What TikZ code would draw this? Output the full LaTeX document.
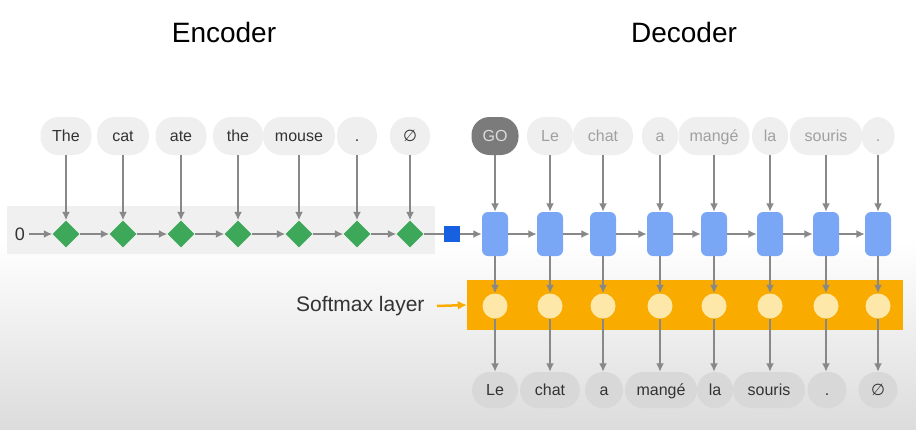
\documentclass[tikz,border=0pt]{standalone}
\usepackage{fontspec}
\setmainfont{Liberation Sans}
\newfontfamily\dejavu{DejaVu Sans}
\usetikzlibrary{shapes.geometric,arrows.meta}
\definecolor{pillgray}{HTML}{EFEFEF}
\definecolor{bandgray}{HTML}{F0F0F0}
\definecolor{textdark}{HTML}{333333}
\definecolor{textlight}{HTML}{A0A0A0}
\definecolor{gofill}{HTML}{7B7B7B}
\definecolor{gotext}{HTML}{DCDCDC}
\definecolor{outgray}{HTML}{D8D8D8}
\definecolor{diamgreen}{HTML}{3EA85A}
\definecolor{boxblue}{HTML}{7AA7F5}
\definecolor{sqblue}{HTML}{1760E0}
\definecolor{smorange}{HTML}{F9AB00}
\definecolor{smyellow}{HTML}{FDE8A9}
\definecolor{arrowgray}{HTML}{888888}
\definecolor{bgbottom}{HTML}{DCDCDC}
\begin{document}
\begin{tikzpicture}[x=1pt,y=-1pt,
  pillbase/.style={rectangle, rounded corners=18pt, inner sep=0pt,
    font=\fontsize{16}{18}\selectfont, text height=11.5pt, text depth=0pt},
  encpill/.style={pillbase, fill=pillgray, minimum height=38pt, text=textdark},
  decpill/.style={pillbase, fill=pillgray, minimum height=38pt, text=textlight},
  gopill/.style={pillbase, fill=gofill, minimum height=38pt, text=gotext},
  outpill/.style={pillbase, fill=outgray, minimum height=36pt, text=textdark},
  gdiam/.style={diamond, fill=diamgreen, minimum width=27pt, minimum height=27pt, inner sep=0pt, aspect=1},
  rnn/.style={rectangle, rounded corners=6pt, fill=boxblue, minimum width=26pt, minimum height=44pt, inner sep=0pt},
  smc/.style={circle, fill=smyellow, minimum size=25pt, inner sep=0pt},
  arr/.style={draw=arrowgray, line width=2pt, -{Latex[length=8.5pt,width=8pt]}},
  plainline/.style={draw=arrowgray, line width=2pt},
  title/.style={font=\fontsize{28}{32}\selectfont, text=black}
]
% background
\useasboundingbox (0,0) rectangle (916,429);
\fill[white] (0,0) rectangle (916,429);
\shade[top color=white, bottom color=bgbottom] (0,240) rectangle (916,429);

% titles
\node[title] (enc) at (224,32) {Encoder};
\node[title] (dec) at (684,32) {Decoder};

% bands
\node[rectangle, fill=bandgray, minimum width=428pt, minimum height=48pt, inner sep=0pt] (eband) at (221,230) {};
\node[rectangle, fill=smorange, minimum width=436pt, minimum height=50pt, inner sep=0pt] (oband) at (685,305) {};

% encoder inputs
\node[encpill, minimum width=51pt] (i1) at (66,136) {The};
\node[encpill, minimum width=52pt] (i2) at (123,136) {cat};
\node[encpill, minimum width=51pt] (i3) at (181,136) {ate};
\node[encpill, minimum width=50pt] (i4) at (238,136) {the};
\node[encpill, minimum width=72pt] (i5) at (299,136) {mouse};
\node[encpill, minimum width=40pt] (i6) at (357,136) {.};
\node[encpill, minimum width=40pt] (i7) at (410,136) {\dejavu ∅};

% encoder states
\node[font=\fontsize{18}{20}\selectfont, text=textdark] (zero) at (20,234) {0};
\node[gdiam] (d1) at (66,234) {};
\node[gdiam] (d2) at (123,234) {};
\node[gdiam] (d3) at (181,234) {};
\node[gdiam] (d4) at (238,234) {};
\node[gdiam] (d5) at (299,234) {};
\node[gdiam] (d6) at (357,234) {};
\node[gdiam] (d7) at (410,234) {};
\node[rectangle, fill=sqblue, minimum size=16pt, inner sep=0pt] (sq) at (452,234) {};

% decoder inputs
\node[gopill, minimum width=47pt] (g1) at (495,136) {GO};
\node[decpill, minimum width=46pt] (g2) at (550,136) {Le};
\node[decpill, minimum width=60pt] (g3) at (603,136) {chat};
\node[decpill, minimum width=36pt] (g4) at (660,136) {a};
\node[decpill, minimum width=71pt] (g5) at (714,136) {mangé};
\node[decpill, minimum width=36pt] (g6) at (770,136) {la};
\node[decpill, minimum width=72pt] (g7) at (826,136) {souris};
\node[decpill, minimum width=33pt] (g8) at (878,136) {.};

% decoder states
\foreach \i/\x in {1/495,2/550,3/603,4/660,5/714,6/770,7/826,8/878}{
  \node[rnn] (b\i) at (\x,234) {};
  \node[smc] (s\i) at (\x,306) {};
}

% decoder outputs
\node[outpill, minimum width=46pt] (o1) at (495,390) {Le};
\node[outpill, minimum width=60pt] (o2) at (550,390) {chat};
\node[outpill, minimum width=38pt] (o3) at (604,390) {a};
\node[outpill, minimum width=72pt] (o4) at (661,390) {mangé};
\node[outpill, minimum width=36pt] (o5) at (715,390) {la};
\node[outpill, minimum width=72pt] (o6) at (769,390) {souris};
\node[outpill, minimum width=39pt] (o7) at (827,390) {.};
\node[outpill, minimum width=39pt] (o8) at (878,390) {\dejavu ∅};

% softmax label
\node[anchor=east, font=\fontsize{21}{24}\selectfont, text=textdark] (smlabel) at (428,306) {Softmax layer};
\draw[draw=smorange, line width=2.5pt, -{Latex[length=9pt,width=9pt]}] (smlabel.east) ++(9,0) coordinate (smstart) -- (oband.west);

% encoder connectors
\draw[arr] (zero) -- (d1);
\foreach \a/\b in {1/2,2/3,3/4,4/5,5/6,6/7}{
  \draw[arr] (d\a) -- (d\b);
}
\foreach \i in {1,...,7}{
  \draw[arr] (i\i) -- (d\i);
}
\draw[plainline] (d7) -- (sq);
\draw[arr] (sq) -- (b1);

% decoder connectors
\foreach \a/\b in {1/2,2/3,3/4,4/5,5/6,6/7,7/8}{
  \draw[arr] (b\a) -- (b\b);
}
\foreach \i in {1,...,8}{
  \draw[arr] (g\i) -- (b\i);
  \draw[arr] (b\i) -- (s\i);
  \draw[arr] (s\i.south) -- (s\i.south |- o\i.north);
}
\end{tikzpicture}
\end{document}
